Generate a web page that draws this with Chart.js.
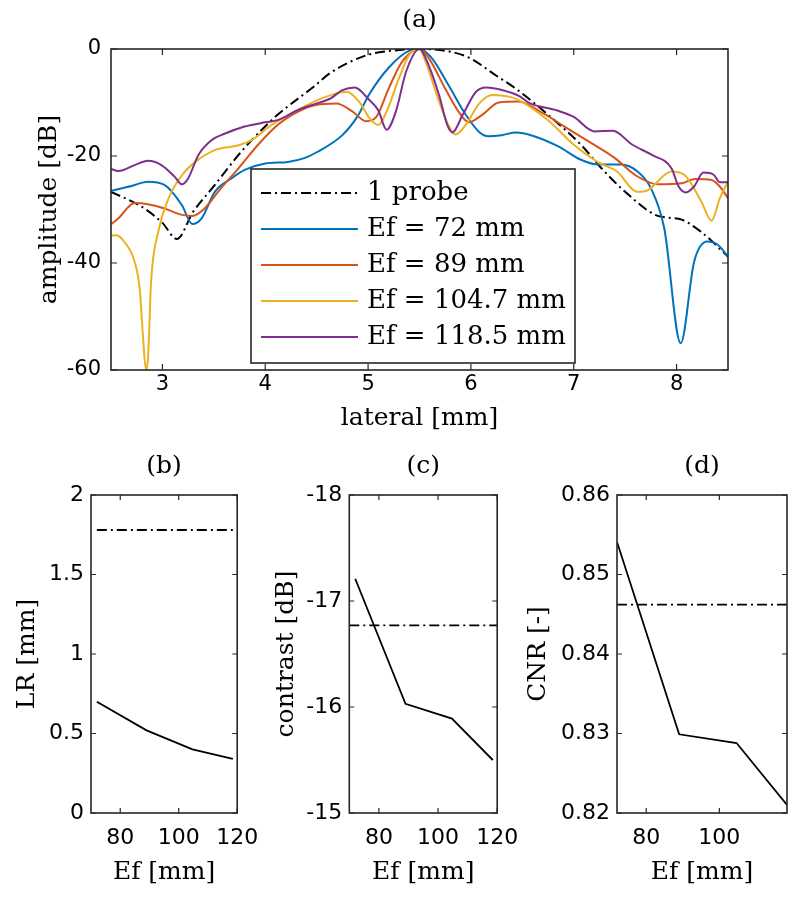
<!DOCTYPE html>
<html>
<head>
<meta charset="utf-8">
<script src="https://cdn.jsdelivr.net/npm/chart.js@4.4.0/dist/chart.umd.min.js"></script>
<style>
  html, body { margin: 0; padding: 0; background: #fff; }
  #wrap { position: relative; width: 800px; height: 898px; overflow: hidden; background: #fff; }
  canvas { position: absolute; }
</style>
</head>
<body>
<div id="wrap">
  <canvas id="chartA" width="800" height="445" style="left:0;top:0"></canvas>
  <canvas id="chartB" width="270" height="458" style="left:0;top:440px"></canvas>
  <canvas id="chartC" width="260" height="458" style="left:270px;top:440px"></canvas>
  <canvas id="chartD" width="280" height="458" style="left:520px;top:440px"></canvas>
</div>
<script>
// ---- (a) beam profiles ----
const seriesLabels = ['1 probe', 'Ef = 72 mm', 'Ef = 89 mm', 'Ef = 104.7 mm', 'Ef = 118.5 mm'];

const latProbe = [2.5, 2.8, 3.0, 3.14, 3.3, 3.51, 3.74, 3.93, 4.12, 4.48, 4.63, 4.98, 5.2, 5.5, 5.8, 5.99, 6.24, 6.45, 6.75, 7.07, 7.27, 7.5, 7.79, 7.9, 8.05, 8.24, 8.5];
const ampProbe = [-26.7, -29.5, -32.5, -35.5, -30.4, -25.4, -19.8, -15.8, -12.3, -6.9, -4.5, -1.2, -0.4, 0, -0.5, -1.7, -4.9, -7.6, -12.3, -17.9, -22.3, -26.7, -31.0, -31.5, -31.9, -34.2, -38.8];

const lat72 = [2.5, 2.7, 2.86, 3.02, 3.19, 3.29, 3.38, 3.51, 3.67, 3.8, 4.0, 4.22, 4.38, 4.5, 4.75, 4.9, 5.01, 5.2, 5.4, 5.5, 5.62, 5.78, 5.95, 6.08, 6.17, 6.3, 6.44, 6.6, 6.85, 7.07, 7.24, 7.46, 7.62, 7.75, 7.88, 8.04, 8.17, 8.3, 8.4, 8.5];
const amp72 = [-26.5, -25.6, -24.8, -25.4, -29.2, -32.7, -31.7, -26.7, -24.2, -22.6, -21.4, -21.1, -20.4, -19.3, -16.1, -12.5, -8.5, -3.5, -0.3, 0, -1.7, -6.7, -12.3, -15.5, -16.3, -16.1, -15.6, -16.2, -18.2, -20.7, -21.6, -21.6, -22.9, -26.0, -33.5, -55, -39.8, -36.0, -36.6, -38.8];

const lat89 = [2.5, 2.57, 2.73, 2.86, 3.02, 3.19, 3.29, 3.41, 3.57, 3.74, 3.93, 4.12, 4.32, 4.48, 4.69, 4.85, 4.98, 5.08, 5.2, 5.33, 5.5, 5.59, 5.75, 5.88, 5.98, 6.11, 6.27, 6.46, 6.7, 6.91, 7.12, 7.4, 7.6, 7.82, 8.05, 8.18, 8.34, 8.42, 8.5];
const amp89 = [-32.8, -31.7, -28.8, -29.0, -29.8, -31.0, -31.2, -29.8, -26.0, -22.3, -17.9, -14.2, -11.7, -10.5, -10.2, -11.7, -13.5, -12.7, -7.4, -2.4, 0, -1.7, -7.4, -11.7, -13.7, -12.3, -10.0, -9.8, -12.0, -14.5, -17.0, -20.4, -23.6, -25.3, -25.1, -24.3, -24.5, -25.7, -27.9];

const lat104 = [2.5, 2.55, 2.64, 2.73, 2.78, 2.81, 2.84, 2.86, 2.89, 2.96, 3.06, 3.19, 3.32, 3.51, 3.74, 3.87, 4.06, 4.32, 4.48, 4.69, 4.79, 4.91, 5.03, 5.1, 5.18, 5.3, 5.4, 5.5, 5.56, 5.69, 5.78, 5.85, 5.95, 6.08, 6.21, 6.37, 6.46, 6.75, 7.0, 7.23, 7.42, 7.62, 7.72, 7.95, 8.08, 8.24, 8.34, 8.42, 8.5];
const amp104 = [-34.9, -34.8, -36.3, -39.8, -45, -53.5, -60, -57.8, -43.5, -34.1, -27.9, -23.6, -21.1, -18.9, -18.0, -17.0, -14.2, -11.4, -9.8, -8.3, -8.0, -9.8, -13.3, -14.2, -11.7, -5.5, -1.1, 0, -2.4, -9.8, -14.2, -16.0, -14.2, -10.2, -8.6, -8.9, -9.5, -13.3, -17.9, -21.1, -22.9, -26.7, -26.4, -22.9, -23.6, -28.5, -32.1, -27.9, -24.8];

const lat118 = [2.5, 2.57, 2.73, 2.86, 2.99, 3.12, 3.19, 3.25, 3.35, 3.48, 3.61, 3.8, 4.0, 4.12, 4.32, 4.48, 4.63, 4.75, 4.87, 5.01, 5.1, 5.18, 5.27, 5.37, 5.5, 5.56, 5.69, 5.77, 5.82, 5.92, 6.05, 6.15, 6.31, 6.47, 6.57, 6.84, 7.0, 7.2, 7.38, 7.57, 7.76, 7.95, 8.02, 8.09, 8.17, 8.26, 8.36, 8.42, 8.5];
const amp118 = [-22.4, -22.8, -21.7, -20.9, -21.7, -23.9, -25.3, -24.2, -19.8, -17.0, -15.8, -14.5, -13.7, -13.3, -11.4, -10.3, -9.3, -7.7, -7.2, -9.5, -11.5, -15.1, -11.7, -4.2, 0, -1.7, -8.6, -14.2, -15.6, -12.3, -8.0, -7.2, -7.7, -8.8, -10.1, -11.5, -12.7, -15.4, -15.3, -17.9, -19.8, -22.3, -25.7, -26.8, -25.7, -23.1, -23.5, -24.9, -24.9];

const lateralTicks = [3, 4, 5, 6, 7, 8];
const ampTicks = [-60, -40, -20, 0];

// ---- (b)-(d) metrics vs Ef ----
const efValues = [72, 89, 104.7, 118.5];
const lrValues = [0.70, 0.52, 0.40, 0.34];
const lrProbe = 1.78;
const contrastValues = [-17.21, -16.03, -15.89, -15.5];
const contrastProbe = -16.77;
const contrastProbeSpan = [70, 120];
const cnrValues = [0.8541, 0.8299, 0.8288, 0.8210];
const cnrProbe = 0.8462;

const efTicks = [80, 100, 120];
const efTicksD = [80, 100];
const lrTicks = [0, 0.5, 1, 1.5, 2];
const contrastTicks = [-18, -17, -16, -15];
const cnrTicks = [0.82, 0.83, 0.84, 0.85, 0.86];

const colors = ['#000000', '#0072BD', '#D95319', '#EDB120', '#7E2F8E'];
const dashDot = [10, 4, 2, 4];
const sansFamily = '"DejaVu Sans", sans-serif';
const serifFamily = '"DejaVu Serif", serif';

function pts(xs, ys) {
    return xs.map((v, i) => ({ x: v, y: ys[i] }));
}

// box, inward ticks on all sides, panel title
const matlabBox = {
    id: 'matlabBox',
    afterDatasetsDraw(chart, args, opts) {
        const { ctx, chartArea: a, scales: { x, y } } = chart;
        const len = opts.tickLength;
        ctx.save();
        ctx.strokeStyle = '#262626';
        ctx.lineWidth = 1.2;
        ctx.beginPath();
        x.ticks.forEach(t => {
            const px = x.getPixelForValue(t.value);
            ctx.moveTo(px, a.bottom); ctx.lineTo(px, a.bottom - len);
            ctx.moveTo(px, a.top); ctx.lineTo(px, a.top + len);
        });
        y.ticks.forEach(t => {
            const py = y.getPixelForValue(t.value);
            ctx.moveTo(a.left, py); ctx.lineTo(a.left + len, py);
            ctx.moveTo(a.right, py); ctx.lineTo(a.right - len, py);
        });
        ctx.stroke();
        ctx.lineWidth = 1.6;
        ctx.strokeRect(a.left, a.top, a.right - a.left, a.bottom - a.top);
        ctx.fillStyle = '#000';
        ctx.font = `${opts.titleSize}px ${serifFamily}`;
        ctx.textAlign = 'center';
        ctx.textBaseline = 'middle';
        ctx.fillText(opts.title, (a.left + a.right) / 2, a.top - opts.titleGap);
        ctx.restore();
    }
};

// legend box inside panel (a)
const boxLegend = {
    id: 'boxLegend',
    afterDatasetsDraw(chart, args, opts) {
        if (!opts.display) return;
        const { ctx, chartArea: a } = chart;
        const left = a.left + opts.dx, top = a.top + opts.dy;
        ctx.save();
        ctx.fillStyle = '#fff';
        ctx.fillRect(left, top, opts.width, opts.height);
        ctx.strokeStyle = '#262626';
        ctx.lineWidth = 1.6;
        ctx.strokeRect(left, top, opts.width, opts.height);
        ctx.font = `${opts.fontSize}px ${serifFamily}`;
        ctx.textBaseline = 'middle';
        ctx.textAlign = 'left';
        chart.data.datasets.forEach((ds, i) => {
            const cy = top + opts.firstRow + i * opts.rowGap;
            ctx.strokeStyle = ds.borderColor;
            ctx.lineWidth = ds.borderWidth;
            ctx.setLineDash(ds.borderDash || []);
            ctx.beginPath();
            ctx.moveTo(left + 10, cy);
            ctx.lineTo(left + 107, cy);
            ctx.stroke();
            ctx.setLineDash([]);
            ctx.fillStyle = '#000';
            ctx.fillText(ds.label, left + 116, cy);
        });
        ctx.restore();
    }
};

function fixedTicks(values) {
    return scale => { scale.ticks = values.map(v => ({ value: v })); };
}

function baseOptions(cfg) {
    const tickFont = { family: sansFamily, size: cfg.tickSize };
    const labelFont = { family: serifFamily, size: cfg.labelSize };
    return {
        responsive: false,
        animation: false,
        layout: { padding: cfg.padding },
        plugins: {
            legend: { display: false },
            tooltip: { enabled: false },
            matlabBox: { title: cfg.title, titleGap: cfg.titleGap, titleSize: cfg.labelSize, tickLength: cfg.tickLength },
            boxLegend: cfg.legend || { display: false }
        },
        elements: { point: { radius: 0 } },
        scales: {
            x: {
                type: 'linear',
                min: cfg.xMin, max: cfg.xMax,
                afterBuildTicks: fixedTicks(cfg.xTicks),
                afterFit: scale => { scale.height = cfg.xHeight; },
                grid: { display: false, drawTicks: false },
                border: { display: false },
                ticks: { font: tickFont, color: '#000', padding: cfg.xTickPad, maxRotation: 0, autoSkip: false, callback: v => String(v) },
                title: { display: true, text: cfg.xLabel, font: labelFont, color: '#000', padding: 0 }
            },
            y: {
                type: 'linear',
                min: cfg.yMin, max: cfg.yMax,
                reverse: !!cfg.yReverse,
                afterBuildTicks: fixedTicks(cfg.yTicks),
                afterFit: scale => { scale.width = cfg.yWidth; },
                grid: { display: false, drawTicks: false },
                border: { display: false },
                ticks: { font: tickFont, color: '#000', padding: cfg.yTickPad, autoSkip: false, callback: v => String(v) },
                title: { display: true, text: cfg.yLabel, font: labelFont, color: '#000', padding: { top: cfg.yTitlePad, bottom: 0 } }
            }
        }
    };
}

// panel (a)
const profileSeries = [
    pts(latProbe, ampProbe), pts(lat72, amp72), pts(lat89, amp89), pts(lat104, amp104), pts(lat118, amp118)
];
new Chart(document.getElementById('chartA'), {
    type: 'line',
    data: {
        datasets: profileSeries.map((d, i) => ({
            label: seriesLabels[i],
            data: d,
            borderColor: colors[i],
            borderWidth: 2,
            borderDash: i === 0 ? dashDot : [],
            cubicInterpolationMode: 'monotone',
            fill: false,
            order: profileSeries.length - i
        }))
    },
    options: baseOptions({
        padding: { left: 0, top: 49, right: 72, bottom: 12 },
        title: '(a)', titleGap: 29, tickLength: 6, tickSize: 21, labelSize: 25,
        legend: { display: true, dx: 140, dy: 120, width: 324, height: 194, firstRow: 24, rowGap: 36, fontSize: 26 },
        xMin: 2.5, xMax: 8.5, xTicks: lateralTicks, xHeight: 63, xTickPad: 2.4, xLabel: 'lateral [mm]',
        yMin: -60, yMax: 0, yTicks: ampTicks, yWidth: 111, yTickPad: 10, yTitlePad: 34, yLabel: 'amplitude [dB]'
    }),
    plugins: [matlabBox, boxLegend]
});

// panels (b)-(d)
function metricChart(id, cfg, values, probe, probeSpan) {
    new Chart(document.getElementById(id), {
        type: 'line',
        data: {
            datasets: [
                {
                    label: 'Ef',
                    data: pts(efValues, values),
                    borderColor: '#000', borderWidth: 1.8, tension: 0, fill: false
                },
                {
                    label: '1 probe',
                    data: pts(probeSpan, [probe, probe]),
                    borderColor: '#000', borderWidth: 1.8, borderDash: dashDot, tension: 0, fill: false
                }
            ]
        },
        options: baseOptions(Object.assign({
            titleGap: 29, tickLength: 5, tickSize: 22, labelSize: 25,
            xHeight: 74.4, xTickPad: 11.8, xLabel: 'Ef [mm]', yTickPad: 7
        }, cfg)),
        plugins: [matlabBox, boxLegend]
    });
}

metricChart('chartB', {
    padding: { left: 0, top: 55, right: 10, bottom: 10.6 }, title: '(b)',
    xMin: 70, xMax: 120, xTicks: efTicks,
    yMin: 0, yMax: 2, yTicks: lrTicks, yWidth: 91, yTitlePad: 12.6, yLabel: 'LR [mm]'
}, lrValues, lrProbe, [efValues[0], efValues[efValues.length - 1]]);

metricChart('chartC', {
    padding: { left: 0, top: 55, right: 10.7, bottom: 10.6 }, title: '(c)',
    xMin: 70, xMax: 120, xTicks: efTicks,
    yMin: -18, yMax: -15, yReverse: true, yTicks: contrastTicks, yWidth: 79.3, yTitlePad: 1, yLabel: 'contrast [dB]'
}, contrastValues, contrastProbe, contrastProbeSpan);

metricChart('chartD', {
    padding: { left: 0, top: 55, right: 13, bottom: 10.6 }, title: '(d)',
    xMin: 72, xMax: 118.5, xTicks: efTicksD,
    yMin: 0.82, yMax: 0.86, yTicks: cnrTicks, yWidth: 97, yTitlePad: 3, yLabel: 'CNR [-]'
}, cnrValues, cnrProbe, [efValues[0], efValues[efValues.length - 1]]);
</script>
</body>
</html>
